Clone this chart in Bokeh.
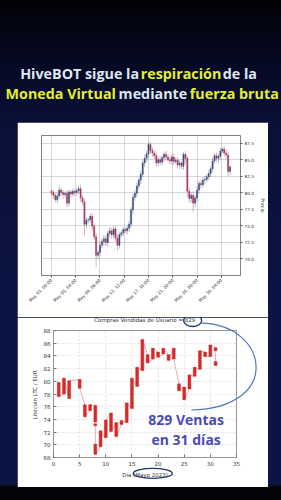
import numpy as np
from bokeh.plotting import figure
from bokeh.layouts import column
from bokeh.models import Range1d, FixedTicker
from bokeh.embed import file_html
from bokeh.resources import INLINE
from bokeh.core.properties import value

# ---------------- heading ----------------
head_line1 = ["HiveBOT sigue la", "respiración", "de la"]
head_line1_col = ["#dfe7f3", "#e3ee3a", "#dfe7f3"]
head_line2 = ["Moneda Virtual", "mediante", "fuerza bruta"]
head_line2_col = ["#e3ee3a", "#dfe7f3", "#e3ee3a"]

# ---------------- top chart: 8-hour candles, May 2023 ----------------
top_first_open = 80.2
top_close = [80.0, 79.6, 78.9, 79.5, 80.4, 80.0, 79.7, 79.9, 78.4, 80.1,
             79.8, 80.2, 80.0, 80.3, 80.6, 79.2, 78.6, 75.2, 75.8, 75.9,
             76.4, 74.9, 73.3, 70.5, 70.9, 72.0, 72.6, 73.0, 72.4, 73.8,
             74.2, 73.6, 74.5, 73.1, 72.0, 73.6, 73.9, 74.4, 74.2, 74.6,
             75.2, 77.4, 79.3, 79.9, 81.0, 81.9, 82.8, 84.5, 85.2, 85.9,
             87.3, 86.4, 86.0, 85.6, 84.5, 85.0, 84.6, 85.3, 85.8, 85.4,
             85.0, 84.8, 85.4, 84.7, 84.9, 84.2, 84.5, 84.0, 85.8, 85.2,
             80.2, 79.1, 79.6, 78.4, 79.2, 80.4, 81.4, 81.2, 81.9, 82.0,
             82.4, 82.9, 83.6, 84.8, 85.6, 85.2, 85.5, 86.3, 86.6, 86.0,
             85.7, 83.2, 83.9]
top_wick_hi = [0.3, 0.4, 0.3, 0.5, 0.6, 0.3, 0.4, 0.3, 0.5, 0.4,
               0.3, 0.4, 0.3, 0.4, 0.5, 0.6, 0.4, 0.5, 0.4, 0.3,
               0.4, 0.5, 0.4, 0.6, 0.4, 0.5, 0.4, 0.6, 0.5, 0.4,
               0.6, 0.5, 0.4, 0.5, 0.6, 0.4, 0.3, 0.4, 0.3, 0.4,
               0.5, 0.4, 0.5, 0.4, 0.5, 0.4, 0.5, 0.4, 0.5, 0.4,
               0.3, 0.4, 0.5, 0.4, 0.5, 0.4, 0.5, 0.4, 0.4, 0.5,
               0.4, 0.5, 0.4, 0.5, 0.4, 0.5, 0.4, 0.3, 0.4, 0.5,
               0.4, 0.5, 0.4, 0.6, 0.4, 0.5, 0.4, 0.5, 0.4, 0.5,
               0.4, 0.5, 0.4, 0.5, 0.4, 0.5, 0.4, 0.5, 0.3, 0.4,
               0.5, 0.4, 0.3]
top_wick_lo = [0.4, 0.5, 0.4, 0.5, 0.4, 0.5, 0.6, 0.4, 0.6, 0.4,
               0.5, 0.4, 0.5, 0.4, 0.5, 0.6, 0.5, 1.7, 0.6, 0.4,
               0.5, 0.6, 0.5, 1.8, 0.6, 0.5, 0.4, 0.6, 0.5, 0.6,
               0.5, 0.6, 0.5, 0.6, 0.8, 0.5, 0.4, 0.5, 0.4, 0.5,
               0.6, 0.5, 0.6, 0.5, 0.6, 0.5, 0.6, 0.5, 0.6, 0.5,
               0.6, 0.5, 0.6, 0.5, 0.6, 0.5, 0.4, 0.5, 0.6, 0.5,
               0.4, 0.5, 0.6, 0.5, 0.4, 0.5, 0.6, 0.5, 0.6, 0.8,
               0.9, 0.7, 0.6, 1.3, 0.6, 0.5, 0.6, 0.5, 0.4, 0.5,
               0.4, 0.5, 0.6, 0.5, 0.4, 0.5, 0.6, 0.5, 0.4, 0.5,
               0.6, 0.7, 0.5]
top_tick_hours = [0, 100, 200, 300, 400, 500, 600, 700]
top_tick_labels = ["May 01, 00:00", "May 05, 04:00", "May 09, 08:00", "May 13, 12:00",
                   "May 17, 16:00", "May 21, 20:00", "May 26, 00:00", "May 30, 04:00"]
top_y_ticks = [70.0, 72.5, 75.0, 77.5, 80.0, 82.5, 85.0, 87.5]
top_hours_per_candle = 8

# ---------------- bottom chart: sales by day ----------------
sale_day = [1, 2, 3, 5, 6, 7, 8, 8, 8, 9, 10, 11, 12, 13, 14, 15, 16, 17, 18, 19,
            20, 21, 22, 23, 24, 25, 26, 27, 28, 29, 30, 31, 31]
sale_open = [79.8, 78.0, 77.3, 80.3, 76.3, 75.4, 76.2, 73.3, 70.1, 69.7, 71.1, 75.0,
             73.5, 73.2, 73.5, 75.7, 79.2, 81.7, 84.2, 83.5, 84.6, 84.3, 84.2, 85.2,
             79.6, 79.1, 78.8, 80.8, 81.9, 84.6, 83.9, 85.3, 83.1]
sale_close = [77.6, 80.5, 80.1, 78.9, 74.4, 76.3, 73.6, 73.0, 68.5, 72.2, 73.9, 72.1,
              71.3, 73.8, 76.6, 80.5, 82.2, 86.6, 82.9, 85.2, 83.8, 85.2, 83.3, 83.5,
              78.5, 77.1, 81.0, 82.2, 84.8, 83.9, 85.7, 84.8, 82.5]
bottom_x_ticks = [0, 5, 10, 15, 20, 25, 30, 35]
bottom_y_ticks = [68, 70, 72, 74, 76, 78, 80, 82, 84, 86, 88]
bottom_title = "Compras Vendidas de Usuario = 829"
bottom_xlabel = "Dia (Mayo 2023)"
bottom_ylabel = "Litecoin  LTC / EUR"
note_lines = ["829 Ventas", "en 31 días"]

# ======================= heading figure =======================
head = figure(width=281, height=122, x_range=Range1d(0, 281), y_range=Range1d(122, 0),
              toolbar_location=None, output_backend="svg", min_border=0,
              min_border_left=0, min_border_right=0, min_border_top=0, min_border_bottom=0,
              x_axis_location=None, y_axis_location=None, frame_align=False,
              background_fill_alpha=0, border_fill_alpha=0, outline_line_color=None)
head.grid.visible = False
# each line: first part ends at A (right aligned), middle part centred, last part starts at B
line1_x = [138.6, 180.5, 222.3]
line2_x = [115.4, 152.4, 189.3]
aligns = ["right", "center", "left"]
for xs, yy, txt, cols in ((line1_x, 73.2, head_line1, head_line1_col),
                          (line2_x, 93.4, head_line2, head_line2_col)):
    for x, t, c, a in zip(xs, txt, cols, aligns):
        head.text(x=[x], y=[yy], text=[t], text_color=c,
                  text_font=value("Open Sans"), text_font_style="bold",
                  text_font_size="14.3px", text_baseline="middle", text_align=a)

# ======================= top chart =======================
n = len(top_close)
t_open = [top_first_open] + top_close[:-1]
t_x = [top_hours_per_candle * i for i in range(n)]
t_hi = [max(a, b) + w for a, b, w in zip(t_open, top_close, top_wick_hi)]
t_lo = [min(a, b) - w for a, b, w in zip(t_open, top_close, top_wick_lo)]
t_top = [max(a, b) for a, b in zip(t_open, top_close)]
t_bot = [min(a, b) for a, b in zip(t_open, top_close)]
t_col = ["#34437a" if c >= o else "#a3304e" for o, c in zip(t_open, top_close)]

top = figure(width=251, height=195, x_range=Range1d(-41, 779), y_range=Range1d(67.43, 88.66),
             toolbar_location=None, output_backend="svg", y_axis_location="right",
             margin=(0, 13, 0, 17), min_border_left=24, min_border_right=27,
             min_border_top=13, min_border_bottom=42, frame_align=False,
             background_fill_color="white", border_fill_color="white",
             outline_line_color="#707070", outline_line_width=0.8)
top.segment(x0=t_x, y0=t_lo, x1=t_x, y1=t_hi, line_color=t_col, line_alpha=0.55, line_width=0.7)
top.vbar(x=t_x, width=5, top=t_top, bottom=t_bot, fill_color=t_col, line_color=t_col,
         line_width=0.4, fill_alpha=0.9)
top.xaxis.ticker = FixedTicker(ticks=top_tick_hours)
top.xaxis.major_label_overrides = {h: l for h, l in zip(top_tick_hours, top_tick_labels)}
top.xaxis.major_label_orientation = np.pi / 4
top.yaxis.ticker = FixedTicker(ticks=top_y_ticks)
top.yaxis.major_label_overrides = {v: f"{v:.1f}" for v in top_y_ticks}
top.yaxis.axis_label = "Precio"
for ax in (top.xaxis, top.yaxis):
    ax.major_label_text_font = "DejaVu Sans"
    ax.major_label_text_font_size = "4.3px"
    ax.major_label_text_color = "#333333"
    ax.axis_line_color = None
    ax.major_tick_line_color = "#555555"
    ax.major_tick_out = 2
    ax.major_tick_in = 0
    ax.minor_tick_line_color = None
    ax.major_label_standoff = 2
top.yaxis.axis_label_text_font = "DejaVu Sans"
top.yaxis.axis_label_text_font_size = "4.8px"
top.yaxis.axis_label_text_font_style = "normal"
top.yaxis.axis_label_standoff = 3
top.grid.grid_line_color = "#555555"
top.grid.grid_line_dash = "1 1"
top.grid.grid_line_width = 0.6
top.grid.grid_line_alpha = 0.8

# ======================= bottom chart =======================
b_top = [max(a, b) for a, b in zip(sale_open, sale_close)]
b_bot = [min(a, b) for a, b in zip(sale_open, sale_close)]
path_x, path_y = [], []
for d, o, c in zip(sale_day, sale_open, sale_close):
    path_x += [d, d]
    path_y += [o, c]

bot = figure(width=251, height=170, x_range=Range1d(0, 35), y_range=Range1d(68, 88),
             toolbar_location=None, output_backend="svg",
             margin=(0, 13, 0, 17), min_border_left=36, min_border_right=32,
             min_border_top=13, min_border_bottom=30, frame_align=False,
             background_fill_color="white", border_fill_color="white",
             outline_line_color="#8a8a8a", outline_line_width=0.8)
bot.line(path_x, path_y, line_color="#e49a9a", line_width=0.8)
bot.vbar(x=sale_day, width=0.55, top=b_top, bottom=b_bot, fill_color="#d42a2a",
         line_color="#d42a2a", line_width=0.5)
bot.xaxis.ticker = FixedTicker(ticks=bottom_x_ticks)
bot.yaxis.ticker = FixedTicker(ticks=bottom_y_ticks)
bot.xaxis.axis_label = bottom_xlabel
bot.yaxis.axis_label = bottom_ylabel
for ax in (bot.xaxis, bot.yaxis):
    ax.major_label_text_font = "DejaVu Sans"
    ax.major_label_text_font_size = "5.5px"
    ax.major_label_text_color = "#333333"
    ax.axis_line_color = None
    ax.major_tick_line_color = "#777777"
    ax.major_tick_in = 3
    ax.major_tick_out = 0
    ax.minor_tick_line_color = None
    ax.major_label_standoff = 3
    ax.axis_label_text_font = "DejaVu Sans"
    ax.axis_label_text_font_size = "5.5px"
    ax.axis_label_text_font_style = "normal"
    ax.axis_label_text_color = "#333333"
    ax.axis_label_standoff = 3
bot.grid.grid_line_color = "#cfcfcf"
bot.grid.grid_line_dash = "2 2"
bot.grid.grid_line_width = 0.6

# title of the lower chart (drawn above the frame)
tt = bot.text(x=[17.45], y=[89.58], text=[bottom_title], text_align="center",
              text_baseline="middle", text_font=value("DejaVu Sans"),
              text_font_size="5.5px", text_color="#333333")
tt.level = "overlay"
# note
bot.text(x=[25.37, 25.37], y=[74.06, 70.9], text=note_lines, text_align="center",
         text_baseline="middle", text_font=value("Open Sans"),
         text_font_style="bold", text_font_size="14px", text_color="#4b4bb4")
# ellipses around "829" and "Mayo 2023"
e1 = bot.ellipse(x=[26.62, 18.98], y=[89.58, 65.5], width=[18, 39], height=[12, 10],
                 width_units="screen", height_units="screen",
                 fill_alpha=0, line_color="#1f3a6a", line_width=1.4)
e1.level = "overlay"
# connector curve
bz = bot.bezier(x0=[28.29], y0=[89.15], x1=[26.37], y1=[75.48],
                cx0=[41.2], cy0=[88.9], cx1=[43.9], cy1=[75.8],
                line_color="#4a78b8", line_width=1.2)
bz.level = "overlay"

layout = column(head, top, bot, width=281, height=500, spacing=0,
                styles={"background": "linear-gradient(180deg, #020205 0%, #060922 12%, #0a1036 25%, #0c1444 60%, #0c1444 96.8%, #030408 97.4%, #030408 100%)"})

with open("out.html", "w") as f:
    f.write(file_html(layout, INLINE))
